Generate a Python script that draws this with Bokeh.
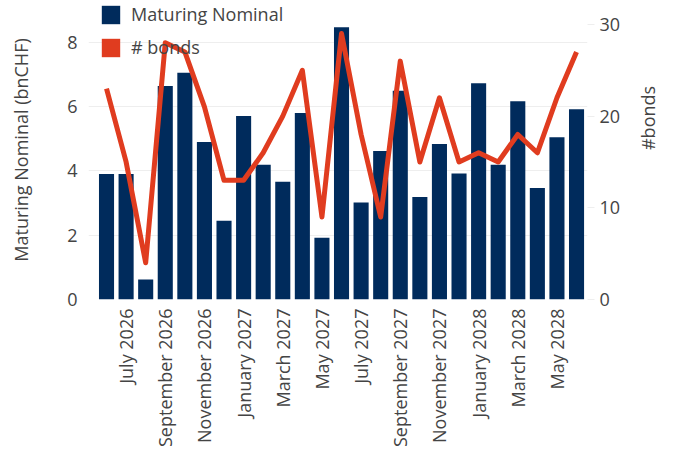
import math
from bokeh.plotting import figure
from bokeh.models import (ColumnDataSource, Range1d, LinearAxis, FixedTicker,
                          Legend, LegendItem)
from bokeh.embed import file_html
from bokeh.resources import INLINE

# ---- data -------------------------------------------------------------
months = ["June 2026", "July 2026", "August 2026", "September 2026", "October 2026",
          "November 2026", "December 2026", "January 2027", "February 2027",
          "March 2027", "April 2027", "May 2027", "June 2027", "July 2027",
          "August 2027", "September 2027", "October 2027", "November 2027",
          "December 2027", "January 2028", "February 2028", "March 2028",
          "April 2028", "May 2028", "June 2028"]
nominal = [3.9, 3.9, 0.62, 6.64, 7.05, 4.9, 2.45, 5.71, 4.19, 3.66, 5.8, 1.92, 8.47,
           3.02, 4.62, 6.49, 3.19, 4.84, 3.92, 6.73, 4.19, 6.17, 3.47, 5.05, 5.92]
bonds = [23, 15, 4, 28, 27, 21, 13, 13, 16, 20, 25, 9, 29,
         18, 9, 26, 15, 22, 15, 16, 15, 18, 16, 22, 27]
tick_months = ["July 2026", "September 2026", "November 2026", "January 2027",
               "March 2027", "May 2027", "July 2027", "September 2027",
               "November 2027", "January 2028", "March 2028", "May 2028"]

BAR = "#002b5c"
LINE = "#e03c1f"
TXT = "#444444"
FONT = "Open Sans"

idx = list(range(len(months)))
src = ColumnDataSource(dict(x=idx, month=months, nominal=nominal, bonds=bonds))

p = figure(width=675, height=449, output_backend="svg", toolbar_location=None,
           x_range=Range1d(-0.92, 24.56), y_range=Range1d(0, 9.30),
           min_border_left=88, min_border_right=85, min_border_top=0,
           min_border_bottom=149)
p.outline_line_color = None
p.background_fill_color = "white"
p.extra_y_ranges = {"bonds": Range1d(0, 32.61)}

bars = p.vbar(x="x", top="nominal", width=0.77, source=src, fill_color=BAR,
              line_color=None)
ln = p.line(x="x", y="bonds", source=src, line_color=LINE, line_width=5,
            line_join="round", y_range_name="bonds")
# legend swatch for the line series (filled square as in the reference); zero-height, invisible
swatch = p.vbar(x=[0], top=[0], bottom=[0], width=0.77, fill_color=LINE,
                line_color=None)

# x axis
xa = p.xaxis[0]
tick_pos = [months.index(m) for m in tick_months]
xa.ticker = FixedTicker(ticks=tick_pos)
xa.major_label_overrides = {i: m for i, m in zip(tick_pos, tick_months)}
xa.major_label_orientation = math.pi / 2
xa.major_label_text_font = FONT
xa.major_label_text_font_size = "18px"
xa.major_label_text_color = TXT
xa.major_label_standoff = 3
xa.axis_line_color = None
xa.major_tick_line_color = None
xa.minor_tick_line_color = None
p.xgrid.grid_line_color = None

# left axis
ya = p.yaxis[0]
ya.ticker = FixedTicker(ticks=[0, 2, 4, 6, 8])
ya.axis_label = "Maturing Nominal (bnCHF)"
ya.axis_label_text_font = FONT
ya.axis_label_text_font_size = "18px"
ya.axis_label_text_font_style = "normal"
ya.axis_label_text_color = TXT
ya.axis_label_standoff = 31
ya.major_label_text_font = FONT
ya.major_label_text_font_size = "18px"
ya.major_label_text_color = TXT
ya.major_label_standoff = 5
ya.axis_line_color = None
ya.major_tick_line_color = None
ya.minor_tick_line_color = None
p.ygrid.grid_line_color = "#eeeeee"
p.ygrid.grid_line_width = 1
p.ygrid.ticker = FixedTicker(ticks=[0, 2, 4, 6, 8])

# right axis
ra = LinearAxis(y_range_name="bonds", ticker=FixedTicker(ticks=[0, 10, 20, 30]))
ra.axis_label = "#bonds"
ra.axis_label_orientation = math.pi / 2
ra.axis_label_text_font = FONT
ra.axis_label_text_font_size = "18px"
ra.axis_label_text_font_style = "normal"
ra.axis_label_text_color = TXT
ra.axis_label_standoff = 25
ra.major_label_text_font = FONT
ra.major_label_text_font_size = "18px"
ra.major_label_text_color = TXT
ra.major_label_standoff = 5
ra.axis_line_color = None
ra.major_tick_line_color = "#eeeeee"
ra.major_tick_out = 7
ra.major_tick_in = 0
ra.minor_tick_line_color = None
p.add_layout(ra, "right")

legend = Legend(items=[LegendItem(label="Maturing Nominal", renderers=[bars]),
                       LegendItem(label="# bonds", renderers=[swatch])],
                location=(11, 240), orientation="vertical")
legend.glyph_width = 23
legend.glyph_height = 23
legend.spacing = 9
legend.label_standoff = 9
legend.padding = 0
legend.margin = 0
legend.border_line_color = None
legend.background_fill_alpha = 0
legend.label_text_font = FONT
legend.label_text_font_size = "18px"
legend.label_text_color = TXT
legend.label_height = 23
p.add_layout(legend, "center")

open("out.html", "w").write(file_html(p, INLINE))
